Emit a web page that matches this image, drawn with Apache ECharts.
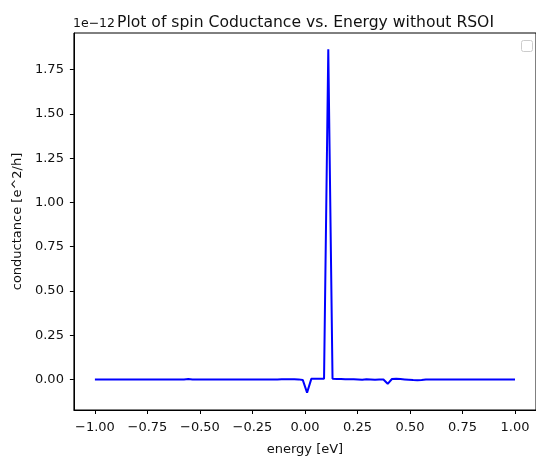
<!DOCTYPE html>
<html>
<head>
<meta charset="utf-8">
<script src="https://cdn.jsdelivr.net/npm/echarts@6/dist/echarts.min.js"></script>
<style>
html,body{margin:0;padding:0;background:#fff;}
#chart{width:536px;height:461px;}
</style>
</head>
<body>
<div id="chart"></div>
<script>
// Energy grid: 100 evenly spaced points from -1 to 1 eV (numpy linspace)
const N_POINTS = 100;
const energy = Array.from({length: N_POINTS}, (_, k) => -1 + 2 * k / (N_POINTS - 1));

// Spin conductance in units of 1e-12 e^2/h
const conductance = [
  0,0,0,0,0,0,0,0,0,0,
  0,0,0,0,0,0,0,0,0,0,
  0,0,0.002,0,0,0,0,0,0,0,
  0,0,0,0,0,0,0,0,0,0,
  0,0,0,0,0.001,0.001,0.001,0.001,0,-0.004,
  -0.075,0.003,0.004,0.004,0.004,1.865,0.003,0.002,0.002,0.001,
  0.001,0.001,0,-0.002,0.001,0,-0.002,0,-0.001,-0.025,
  0.002,0.003,0.002,0,-0.002,-0.004,-0.005,-0.004,-0.001,0,
  0,0,0,0,0,0,0,0,0,0,
  0,0,0,0,0,0,0,0,0,0
];

const xTicks = [-1.00,-0.75,-0.50,-0.25,0.00,0.25,0.50,0.75,1.00];
const yTicks = [0.00,0.25,0.50,0.75,1.00,1.25,1.50,1.75];

const titleText = 'Plot of spin Coductance vs. Energy without RSOI';
const offsetText = '1e\u221212';
const xName = 'energy [eV]';
const yName = 'conductance [e^2/h]';

const fmt = v => (v < 0 ? '\u2212' : '') + Math.abs(v).toFixed(2);
const FONT = 'DejaVu Sans';

const chart = echarts.init(document.getElementById('chart'), null, {renderer: 'canvas'});
chart.setOption({
  animation: false,
  backgroundColor: '#fff',
  textStyle: {fontFamily: FONT},
  title: {
    text: titleText,
    left: 112, top: 10,
    textStyle: {fontFamily: FONT, fontSize: 15.6, fontWeight: 'normal', color: '#111'}
  },
  graphic: [
    {type: 'text', left: 73, top: 17,
     style: {text: offsetText, fontFamily: FONT, fontSize: 12.5, fill: '#111'}},
    {type: 'rect', right: 3, top: 40,
     shape: {width: 11, height: 11, r: 2},
     style: {fill: '#fff', stroke: '#cccccc', lineWidth: 1}}
  ],
  grid: {left: 73.9, top: 33, width: 465.3, height: 382,
         show: true, borderColor: '#000', borderWidth: 1, containLabel: false},
  xAxis: {
    type: 'value', min: -1.1, max: 1.1,
    name: xName, nameLocation: 'middle', nameGap: 33,
    nameTextStyle: {fontFamily: FONT, fontSize: 13, color: '#111'},
    axisLine: {show: true, onZero: false, lineStyle: {color: '#000', width: 1}},
    axisTick: {show: true, inside: false, length: 4, customValues: xTicks, lineStyle: {color: '#000'}},
    axisLabel: {show: true, margin: 11, customValues: xTicks, formatter: fmt,
                fontFamily: FONT, fontSize: 13, color: '#111'},
    splitLine: {show: false}
  },
  yAxis: {
    type: 'value', min: -0.173, max: 1.957,
    name: yName, nameLocation: 'middle', nameGap: 41, nameRotate: 90,
    nameTextStyle: {fontFamily: FONT, fontSize: 13, color: '#111'},
    axisLine: {show: true, onZero: false, lineStyle: {color: '#000', width: 1}},
    axisTick: {show: true, inside: false, length: 4, customValues: yTicks, lineStyle: {color: '#000'}},
    axisLabel: {show: true, margin: 10, customValues: yTicks, formatter: fmt,
                fontFamily: FONT, fontSize: 13, color: '#111'},
    splitLine: {show: false}
  },
  series: [{
    type: 'line',
    data: energy.map((e, i) => [e, conductance[i]]),
    showSymbol: false,
    symbol: 'none',
    lineStyle: {color: '#0000ff', width: 2},
    itemStyle: {color: '#0000ff'},
    clip: true
  }]
});
</script>
</body>
</html>
